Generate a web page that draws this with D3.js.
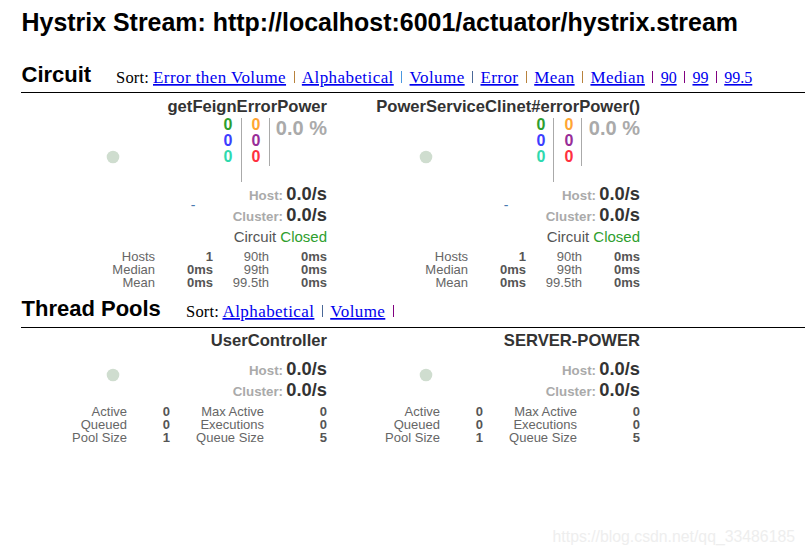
<!DOCTYPE html>
<html><head><meta charset="utf-8">
<script src="https://cdn.jsdelivr.net/npm/d3@7/dist/d3.min.js"></script>
<style>html,body{margin:0;padding:0;background:#fff;overflow:hidden}svg{display:block}
text{font-family:"Liberation Sans",Arial,sans-serif}</style></head><body>
<svg id="c" width="805" height="555"></svg>
<script>
const titleText = "Hystrix Stream: http://localhost:6001/actuator/hystrix.stream";
const circuitSort = ["Error then Volume","Alphabetical","Volume","Error","Mean","Median","90","99","99.5"];
const poolSort = ["Alphabetical","Volume"];
const circuitNames = ["getFeignErrorPower","PowerServiceClinet#errorPower()"];
const poolNames = ["UserController","SERVER-POWER"];
const countColors = [["#2e9e2e","#ffa533"],["#3d3dff","#982d98"],["#2fd9ae","#ff3040"]];
const countValues = [[0,0],[0,0],[0,0]];
const errorPct = "0.0 %";
const hostRate = "0.0/s", clusterRate = "0.0/s";
const circuitLabels1 = ["Hosts","Median","Mean"];
const circuitValues1 = ["1","0ms","0ms"];
const circuitLabels2 = ["90th","99th","99.5th"];
const circuitValues2 = ["0ms","0ms","0ms"];
const poolLabels1 = ["Active","Queued","Pool Size"];
const poolValues1 = ["0","0","1"];
const poolLabels2 = ["Max Active","Executions","Queue Size"];
const poolValues2 = ["0","0","5"];

const svg = d3.select("#c");
const panelX = d3.scaleOrdinal().domain([0,1]).range([0,313]);
function t(g,x,y,s,size,weight,fill,anchor,fam){
  const e=g.append("text").attr("x",x).attr("y",y).text(s).attr("font-size",size).attr("font-weight",weight||"normal").attr("fill",fill||"#000").attr("text-anchor",anchor||"start");
  if(fam)e.style("font-family",fam);return e;
}
t(svg,21.5,31,titleText,24.95,"bold");

function section(title,baseY,ruleY,sortX,linkX,sortY,items,seps){
  t(svg,21.5,baseY,title,22,"bold");
  svg.append("line").attr("x1",21).attr("x2",805).attr("y1",ruleY+.5).attr("y2",ruleY+.5).attr("stroke","#000");
  const serif='"Liberation Serif","Times New Roman",serif';
  t(svg,sortX,sortY,"Sort:",16.5,"normal","#000","start",serif).attr("letter-spacing",.2);
  let x=linkX;
  items.forEach((it,i)=>{
    const numeric=/^[0-9.]+$/.test(it);
    const a=t(svg,x,sortY,it,numeric?16:17,"normal","#00e","start",serif).attr("letter-spacing",numeric?0:.42).attr("text-decoration","underline");
    x+=a.node().getComputedTextLength();
    const sx=Math.round(x+7.5)+.5;
    svg.append("line").attr("x1",sx).attr("x2",sx).attr("y1",sortY-12).attr("y2",sortY).attr("stroke",seps[i]);
    x+=15.8;
  });
}
section("Circuit",82,92,116,153,83,circuitSort,["#b8823c","#4a98e0","#4a6898","#b8823c","#b8823c","#800080","#800080","#800080","#ffffff"]);
section("Thread Pools",316,327,186,222.5,317,poolSort,["#4a6898","#800080"]);

function rates(g,hy,cy){
  t(g,283,hy,"Host:",13.3,"bold","#aaa","end");
  t(g,327,hy,hostRate,18.3,"bold","#333","end");
  t(g,283,cy,"Cluster:",13.3,"bold","#aaa","end");
  t(g,327,cy,clusterRate,18.3,"bold","#333","end");
}
function rows(g,ys,cols){
  cols.forEach(c=>c.vals.forEach((v,i)=>t(g,c.x,ys(i),v,13,c.bold?"bold":"normal",c.bold?"#555":"#666","end")));
}
const circRowY=d3.scaleLinear().domain([0,2]).range([261,287]);
const poolRowY=d3.scaleLinear().domain([0,2]).range([416,442]);

circuitNames.forEach((n,k)=>{
  const g=svg.append("g").attr("transform",`translate(${panelX(k)},0)`);
  t(g,327,112,n,16.6,"bold","#333","end");
  countValues.forEach((row,r)=>row.forEach((v,c)=>t(g,c?256:228,130+r*16,v,16,"bold",countColors[r][c],"middle")));
  const lineShift=k?-1:0;
  g.append("line").attr("x1",241.5+lineShift).attr("x2",241.5+lineShift).attr("y1",118).attr("y2",182).attr("stroke","#aaa");
  g.append("line").attr("x1",269.5+lineShift).attr("x2",269.5+lineShift).attr("y1",118).attr("y2",166).attr("stroke","#aaa");
  t(g,327,135,errorPct,20,"bold","#aaa","end");
  g.append("circle").attr("cx",113).attr("cy",157).attr("r",6.3).attr("fill","#cfddcf");
  t(g,193,210,"-",14,"normal","#4a7ab0","middle");
  rates(g,200,221);
  const c=t(g,327,242,"",15,"normal","#555","end");
  c.append("tspan").text("Circuit ");
  c.append("tspan").attr("fill","#2e9e2e").text("Closed");
  rows(g,circRowY,[{x:155,vals:circuitLabels1},{x:213,vals:circuitValues1,bold:true},{x:269,vals:circuitLabels2},{x:327,vals:circuitValues2,bold:true}]);
});
poolNames.forEach((n,k)=>{
  const g=svg.append("g").attr("transform",`translate(${panelX(k)},0)`);
  t(g,327,346,n,16.6,"bold","#333","end");
  g.append("circle").attr("cx",113).attr("cy",375).attr("r",6.3).attr("fill","#cfddcf");
  rates(g,375,396);
  rows(g,poolRowY,[{x:127,vals:poolLabels1},{x:170,vals:poolValues1,bold:true},{x:264,vals:poolLabels2},{x:327,vals:poolValues2,bold:true}]);
});
t(svg,795,542,"https://blog.csdn.net/qq_33486185",15.8,"normal","#eee","end");
</script></body></html>
